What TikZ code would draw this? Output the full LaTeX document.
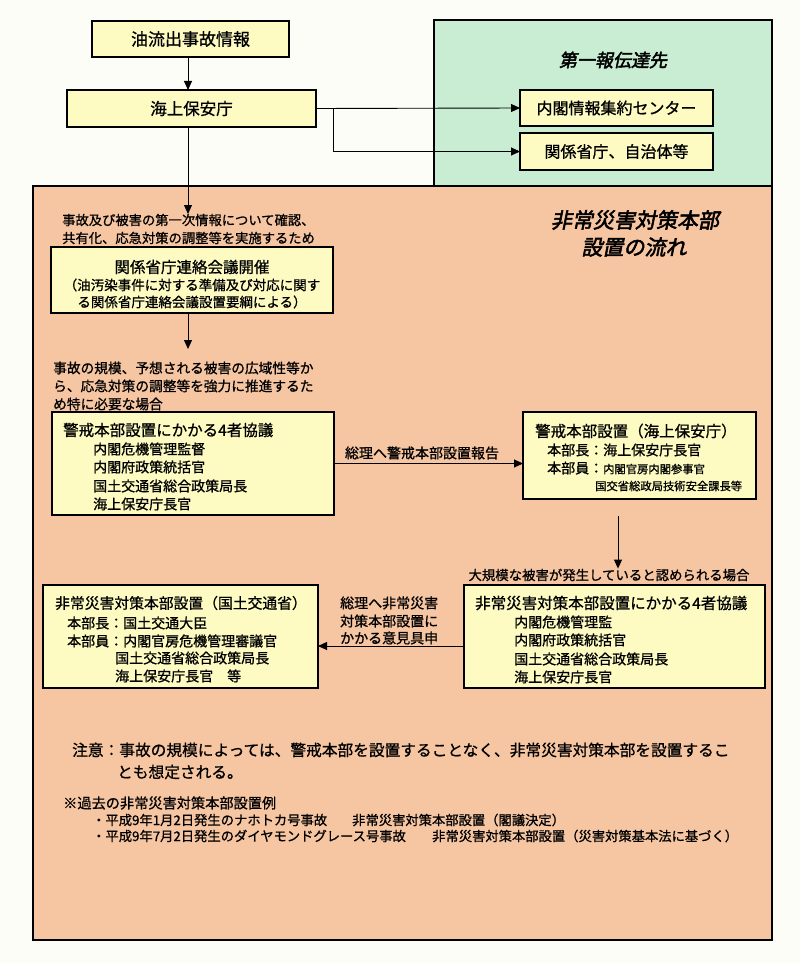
\documentclass[tikz,border=0pt]{standalone}
\usepackage{fontspec}
\newfontfamily\jp[FakeBold=0.9]{Noto Sans CJK JP}
\newfontfamily\jpt[FakeBold=2.4,FakeSlant=0.2]{Noto Sans CJK JP}
\usetikzlibrary{arrows.meta}
\newcommand\fsz[1]{\fontsize{#1}{#1}\selectfont}
\definecolor{bgc}{RGB}{253,253,248}
\definecolor{grn}{RGB}{200,237,210}
\definecolor{org}{RGB}{246,197,162}
\definecolor{yel}{RGB}{253,251,194}
\begin{document}
\begin{tikzpicture}[x=1pt,y=-1pt,
  bx/.style={draw, fill=yel, anchor=north west, inner sep=0pt, outer sep=0pt, line width=1.1pt},
  tbx/.style={bx, line width=2.7pt},
  area/.style={draw, anchor=north west, inner sep=0pt, outer sep=0pt, line width=2.8pt},
  t/.style={anchor=west, inner sep=0pt, font=\jp\fsz{14}},
  tc/.style={inner sep=0pt, font=\jp\fsz{14}},
  arr/.style={draw, line width=0.9pt, -{Triangle[length=9pt,width=8pt]}},
  ln/.style={draw, line width=0.9pt}]
\fill[bgc] (0,0) rectangle (800,963);
\useasboundingbox (0,0) rectangle (800,963);

% areas
\node[area, fill=grn, minimum width=338, minimum height=166] (green) at (434,20) {};
\node[area, fill=org, minimum width=739, minimum height=754] (orange) at (33,186) {};

% top boxes
\node[tbx, minimum width=197, minimum height=36, font=\jp\fsz{17}] (src) at (92,21) {油流出事故情報};
\node[tbx, minimum width=249, minimum height=37, font=\jp\fsz{16.5}] (kaiho) at (67,90) {海上保安庁};
\node[tbx, minimum width=193, minimum height=36, font=\jp\fsz{16}] (naikaku) at (520,90) {内閣情報集約センター};
\node[tbx, minimum width=193, minimum height=37, font=\jp\fsz{16}] (kankei) at (520,133) {関係省庁、自治体等};

\node[inner sep=0pt, font=\jpt\fsz{18}] (gtitle) at (613,60) {第一報伝達先};
\node[inner sep=0pt, font=\jpt\fsz{21}] (otitle1) at (635,220) {非常災害対策本部};
\node[inner sep=0pt, font=\jpt\fsz{21}] (otitle2) at (634,247) {設置の流れ};

% connectors top
\coordinate (t1) at (188,214);
\coordinate (t2) at (188,349);
\draw[arr] (src.south -| t1) -- (kaiho.north -| t1);
\draw[arr] (kaiho.east) -- (naikaku.west);
\draw[arr] (kaiho.east) -- ++(17,0) |- (kankei.west);
\draw[arr] (kaiho.south -| t1) -- (t1);

% first text block
\node[t, font=\jp\fsz{13.3}] (c1a) at (62,220) {事故及び被害の第一次情報について確認、};
\node[t, font=\jp\fsz{13.3}] (c1b) at (62,238) {共有化、応急対策の調整等を実施するため};

% renraku box
\node[bx, minimum width=282, minimum height=66] (renraku) at (51,247) {};
\node[tc, font=\jp\fsz{15.5}] (r1) at (192,267) {関係省庁連絡会議開催};
\node[tc, font=\jp\fsz{13.5}] (r2) at (192,285) {（油汚染事件に対する準備及び対応に関す};
\node[tc, font=\jp\fsz{13.5}] (r3) at (192,302) {る関係省庁連絡会議設置要綱による）};
\draw[arr] (renraku.south -| t2) -- (t2);

% second text block
\node[t, font=\jp\fsz{13.7}] (c2a) at (53,368) {事故の規模、予想される被害の広域性等か};
\node[t, font=\jp\fsz{13.7}] (c2b) at (53,386) {ら、応急対策の調整等を強力に推進するた};
\node[t, font=\jp\fsz{13.7}] (c2c) at (53,404) {め特に必要な場合};

% keikai 4 box
\node[bx, minimum width=282, minimum height=103] (keikai4) at (52,412) {};
\node[t, font=\jp\fsz{15.5}] (k0) at (63,430) {警戒本部設置にかかる4者協議};
\node[t] (k1) at (93,449) {内閣危機管理監督};
\node[t] (k2) at (93,467) {内閣府政策統括官};
\node[t] (k3) at (93,486) {国土交通省総合政策局長};
\node[t] (k4) at (93,504) {海上保安庁長官};

% keikai HQ box
\node[bx, minimum width=233, minimum height=87] (keikaiHQ) at (523,412) {};
\node[t, font=\jp\fsz{15.5}] (h0) at (535,431) {警戒本部設置（海上保安庁）};
\node[t] (h1) at (547,450) {本部長：海上保安庁長官};
\node[t] (h2) at (547,468) {本部員：{\fsz{11.3}内閣官房内閣参事官}};
\node[t, font=\jp\fsz{11.3}] (h3) at (595,486) {国交省総政局技術安全課長等};

\draw[arr] (keikai4.east) -- (keikai4.east -| keikaiHQ.west);
\node[tc] (lab1) at (422,453) {総理へ警戒本部設置報告};

% large scale
\node[tc, font=\jp\fsz{13.4}] (daikibo) at (609,575) {大規模な被害が発生していると認められる場合};
\coordinate (a3s) at (618,516);
\draw[arr] (a3s) -- (a3s |- daikibo.north);

% hijo 4 box
\node[bx, minimum width=301, minimum height=103] (hijo4) at (464,585) {};
\node[t, font=\jp\fsz{15.5}] (j0) at (475,603) {非常災害対策本部設置にかかる4者協議};
\node[t] (j1) at (514,622) {内閣危機管理監};
\node[t] (j2) at (514,640) {内閣府政策統括官};
\node[t] (j3) at (514,659) {国土交通省総合政策局長};
\node[t] (j4) at (514,677) {海上保安庁長官};

% hijo MLIT box
\node[bx, minimum width=275, minimum height=103] (hijoM) at (43,585) {};
\node[t, font=\jp\fsz{14.8}] (m0) at (55,603) {非常災害対策本部設置（国土交通省）};
\node[t] (m1) at (67,623) {本部長：国土交通大臣};
\node[t] (m2) at (67,641) {本部員：内閣官房危機管理審議官};
\node[t] (m3) at (115,658) {国土交通省総合政策局長};
\node[t] (m4) at (115,676) {海上保安庁長官　等};

\draw[arr] ([yshift=-9.5pt]hijo4.west) -- ([yshift=-9.5pt]hijo4.west -| hijoM.east);
\node[t] (lab2a) at (340,603) {総理へ非常災害};
\node[t] (lab2b) at (340,621) {対策本部設置に};
\node[t] (lab2c) at (340,638) {かかる意見具申};

% notes
\node[t, font=\jp\fsz{15.7}] (n1) at (72,750) {注意：事故の規模によっては、警戒本部を設置することなく、非常災害対策本部を設置するこ};
\node[t, font=\jp\fsz{15.7}] (n2) at (117,772) {とも想定される。};
\node[t, font=\jp\fsz{14.2}] (f0) at (63,803) {※過去の非常災害対策本部設置例};
\node[t, font=\jp\fsz{13.3}] (f1) at (92,820) {・平成9年1月2日発生のナホトカ号事故};
\node[t, font=\jp\fsz{13.3}] (f1b) at (352,820) {非常災害対策本部設置（閣議決定）};
\node[t, font=\jp\fsz{13.3}] (f2) at (92,836) {・平成9年7月2日発生のダイヤモンドグレース号事故};
\node[t, font=\jp\fsz{13.3}] (f2b) at (432,836) {非常災害対策本部設置（災害対策基本法に基づく）};
\end{tikzpicture}
\end{document}
